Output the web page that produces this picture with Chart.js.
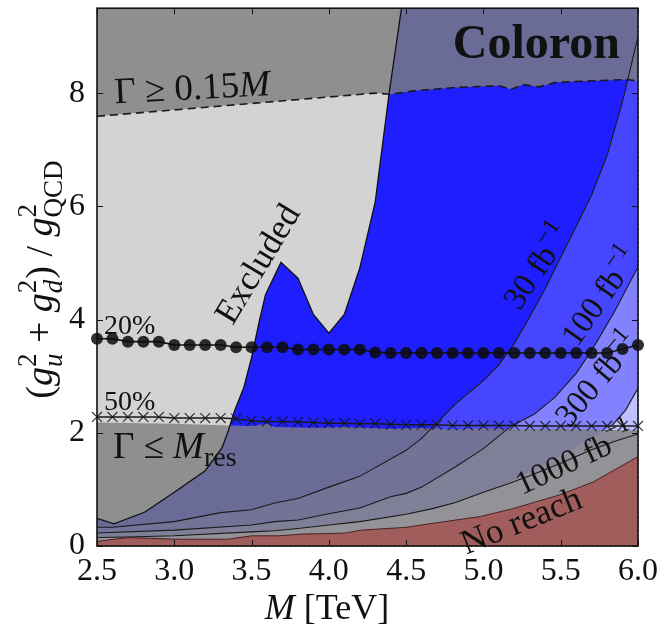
<!DOCTYPE html>
<html>
<head>
<meta charset="utf-8">
<script src="https://cdn.jsdelivr.net/npm/chart.js@4.4.1/dist/chart.umd.min.js"></script>
<style>
  body { margin: 0; background: #fff; }
  canvas { display: block; }
</style>
</head>
<body>
<canvas id="reach" width="663" height="635"></canvas>
<script>
// axes
var massTicks = [2.5, 3.0, 3.5, 4.0, 4.5, 5.0, 5.5, 6.0];
var couplingTicks = [0, 2, 4, 6, 8];
var massMin = 2.5, massMax = 6.0, couplingMax = 9.5;

// reach contours
var reach30M = [2.5, 2.6, 3.0, 3.3, 3.5, 3.65, 3.8, 4.0, 4.2, 4.5, 4.6, 4.7, 4.82, 5.0, 5.1, 5.2, 5.3, 5.4, 5.5, 5.6, 5.7, 5.8, 5.9, 6.0];
var reach30 = [0.33, 0.33, 0.43, 0.59, 0.64, 0.76, 0.84, 1.04, 1.23, 1.69, 1.90, 2.18, 2.51, 2.92, 3.20, 3.58, 4.05, 4.55, 5.10, 5.65, 6.20, 6.90, 7.85, 9.00];

var reach100M = [2.5, 3.0, 3.5, 3.65, 3.8, 4.0, 4.2, 4.4, 4.5, 4.6, 4.82, 5.0, 5.17, 5.33, 5.46, 5.6, 5.71, 5.85, 6.0];
var reach100 = [0.23, 0.28, 0.37, 0.43, 0.46, 0.57, 0.67, 0.87, 0.93, 1.04, 1.40, 1.72, 2.10, 2.33, 2.62, 3.05, 3.50, 4.15, 4.93];

var reach300M = [2.5, 2.7, 3.0, 3.5, 3.65, 3.8, 4.0, 4.2, 4.5, 4.67, 4.82, 5.0, 5.16, 5.3, 5.5, 5.7, 5.83, 5.92, 6.0];
var reach300 = [0.15, 0.16, 0.18, 0.25, 0.27, 0.31, 0.37, 0.43, 0.56, 0.66, 0.77, 0.95, 1.12, 1.32, 1.60, 1.90, 2.12, 2.40, 2.79];

var reach1000M = [2.5, 2.7, 3.0, 3.5, 3.65, 3.8, 4.0, 4.2, 4.5, 4.67, 4.82, 5.0, 5.16, 5.3, 5.5, 5.7, 5.85, 6.0];
var reach1000 = [0.15, 0.16, 0.18, 0.25, 0.27, 0.31, 0.37, 0.43, 0.56, 0.66, 0.77, 0.95, 1.10, 1.24, 1.46, 1.70, 1.85, 1.98];

var noReachM = [2.5, 2.7, 3.0, 3.35, 3.5, 3.68, 3.82, 4.0, 4.11, 4.21, 4.5, 4.67, 4.85, 4.98, 5.19, 5.49, 5.71, 6.0];
var noReach = [0.08, 0.15, 0.12, 0.12, 0.18, 0.18, 0.21, 0.22, 0.23, 0.28, 0.33, 0.40, 0.47, 0.52, 0.66, 0.90, 1.13, 1.58];

// excluded region outline (closed)
var excludedM = [2.5, 4.47, 4.39, 4.30, 4.20, 4.10, 4.00, 3.90, 3.80, 3.69, 3.59, 3.55, 3.50, 3.45, 3.39, 3.35, 3.31, 3.24, 3.20, 3.00, 2.81, 2.61, 2.5, 2.5];
var excluded = [9.5, 9.5, 8.0, 6.08, 4.91, 4.09, 3.76, 4.09, 4.73, 5.01, 4.44, 3.97, 3.33, 2.80, 2.39, 2.04, 1.74, 1.48, 1.33, 0.95, 0.60, 0.39, 0.49, 9.5];

// width limits
var wideM = [2.5, 4.3, 4.4, 4.55, 4.82, 5.1, 5.18, 5.26, 5.36, 5.47, 5.93, 6.0];
var wide = [7.59, 8.00, 7.98, 8.04, 8.10, 8.13, 8.07, 8.15, 8.11, 8.19, 8.24, 8.21];
var narrowM = [2.5, 3.0, 3.35, 3.5, 3.6, 3.65, 3.9, 4.1, 4.4, 4.6, 4.8, 5.0, 5.25, 5.5, 5.75, 6.0];
var narrow = [2.18, 2.16, 2.13, 2.12, 2.16, 2.10, 2.09, 2.10, 2.07, 2.09, 2.06, 2.08, 2.06, 2.07, 2.05, 2.05];

// signal-fraction lines
var fracM = [2.5, 2.6, 2.7, 2.8, 2.9, 3.0, 3.1, 3.2, 3.3, 3.4, 3.5, 3.6, 3.7, 3.8, 3.9, 4.0, 4.1, 4.2,
             4.3, 4.4, 4.5, 4.6, 4.7, 4.8, 4.9, 5.0, 5.1, 5.2, 5.3, 5.4, 5.5, 5.6, 5.7, 5.8, 5.9, 6.0];
var twentyPct = [3.66, 3.66, 3.61, 3.61, 3.61, 3.55, 3.55, 3.55, 3.55, 3.51, 3.51, 3.51, 3.51, 3.47, 3.47, 3.47, 3.47, 3.47,
                 3.42, 3.41, 3.41, 3.41, 3.41, 3.41, 3.41, 3.41, 3.41, 3.41, 3.41, 3.41, 3.41, 3.41, 3.41, 3.41, 3.48, 3.55];
var fiftyPct = [2.28, 2.28, 2.28, 2.28, 2.28, 2.26, 2.26, 2.26, 2.26, 2.25, 2.21, 2.20, 2.20, 2.19, 2.18, 2.17, 2.17, 2.16,
                2.16, 2.15, 2.14, 2.14, 2.14, 2.13, 2.13, 2.13, 2.13, 2.13, 2.12, 2.12, 2.12, 2.12, 2.12, 2.12, 2.12, 2.12];

var serif = "'Liberation Serif', 'Times New Roman', serif";
var overlay = 'rgba(126,126,126,0.8)';

function pts(xs, ys) {
    return xs.map(function (x, i) { return { x: x, y: ys[i] }; });
}
function fillSet(label, xs, ys, color, fill, order) {
    return { label: label, data: pts(xs, ys), backgroundColor: color, borderWidth: 0,
             pointRadius: 0, fill: fill, order: order };
}
function lineSet(label, xs, ys, color, width, order) {
    return { label: label, data: pts(xs, ys), borderColor: color, borderWidth: width,
             pointRadius: 0, fill: false, order: order };
}

// text labels, positions in (mass, coupling)
var sup = function (t, size) { return { t: t, size: size, dy: -size * 0.6 }; };
var annotations = [
    { x: 5.883, y: 8.62, align: 'right', pieces: [{ t: 'Coloron', size: 48, style: 'bold' }] },
    { x: 2.616, y: 7.82, angle: -3, pieces: [{ t: 'Γ ≥ 0.15', size: 37 }, { t: 'M', size: 37, style: 'italic' }] },
    { x: 3.535, y: 4.99, angle: -59, align: 'center', mid: true, pieces: [{ t: 'Excluded', size: 35 }] },
    { x: 2.545, y: 3.74, pieces: [{ t: '20%', size: 28 }] },
    { x: 2.545, y: 2.41, pieces: [{ t: '50%', size: 28 }] },
    { x: 2.603, y: 1.546, pieces: [{ t: 'Γ ≤ ', size: 37 }, { t: 'M', size: 37, style: 'italic' }, { t: 'res', size: 28, dy: 8 }] },
    { x: 5.346, y: 4.94, angle: -56, align: 'center', mid: true, pieces: [{ t: '30 fb', size: 33 }, sup('−1', 24)] },
    { x: 5.754, y: 4.41, angle: -55, align: 'center', mid: true, pieces: [{ t: '100 fb', size: 33 }, sup('−1', 24)] },
    { x: 5.734, y: 2.95, angle: -50, align: 'center', mid: true, pieces: [{ t: '300 fb', size: 33 }, sup('−1', 24)] },
    { x: 5.592, y: 1.546, angle: -25, align: 'center', mid: true, pieces: [{ t: '1000 fb', size: 33 }, sup('−1', 24)] },
    { x: 5.243, y: 0.457, angle: -22, align: 'center', mid: true, pieces: [{ t: 'No reach', size: 35 }] }
];
var xTitle = [{ t: 'M', size: 36, style: 'italic' }, { t: ' [TeV]', size: 36 }];
var yTitle = [
    { t: '(', size: 38 }, { t: 'g', size: 38, style: 'italic' }, { sup: '2', sub: 'u', size: 27, subStyle: 'italic' },
    { t: ' + ', size: 38 }, { t: 'g', size: 38, style: 'italic' }, { sup: '2', sub: 'd', size: 27, subStyle: 'italic' },
    { t: ')', size: 38 }, { t: ' / ', size: 38 }, { t: 'g', size: 38, style: 'italic' },
    { sup: '2', sub: 'QCD', size: 27 }
];

function setFont(ctx, size, style) {
    ctx.font = (style || 'normal') + ' ' + size + 'px ' + serif;
}
function pieceWidth(ctx, p) {
    if (p.sup !== undefined) {
        setFont(ctx, p.size, p.supStyle);
        var a = ctx.measureText(p.sup).width;
        setFont(ctx, p.size, p.subStyle);
        var b = ctx.measureText(p.sub).width;
        return Math.max(a, b) + 1;
    }
    setFont(ctx, p.size, p.style);
    return ctx.measureText(p.t).width;
}
function drawRich(ctx, pieces, x, y, angle, align, mid) {
    ctx.save();
    ctx.translate(x, y);
    ctx.rotate((angle || 0) * Math.PI / 180);
    ctx.fillStyle = '#111';
    ctx.textAlign = 'left';
    ctx.textBaseline = 'alphabetic';
    var widths = pieces.map(function (p) { return pieceWidth(ctx, p); });
    var total = widths.reduce(function (s, w) { return s + w; }, 0);
    var cx = align === 'center' ? -total / 2 : (align === 'right' ? -total : 0);
    var base = mid ? pieces[0].size * 0.33 : 0;
    pieces.forEach(function (p, i) {
        if (p.sup !== undefined) {
            setFont(ctx, p.size, p.supStyle);
            ctx.fillText(p.sup, cx, base - p.size * 0.6);
            setFont(ctx, p.size, p.subStyle);
            ctx.fillText(p.sub, cx, base + p.size * 0.38);
        } else {
            setFont(ctx, p.size, p.style);
            ctx.fillText(p.t, cx, base + (p.dy || 0));
        }
        cx += widths[i];
    });
    ctx.restore();
}

var decor = {
    id: 'decor',
    afterDraw: function (chart) {
        var ctx = chart.ctx, a = chart.chartArea, xs = chart.scales.x, ys = chart.scales.y;
        ctx.save();
        ctx.strokeStyle = '#111';
        ctx.lineWidth = 1;
        ctx.beginPath();
        massTicks.forEach(function (v) {
            var p = Math.round(xs.getPixelForValue(v)) + 0.5;
            ctx.moveTo(p, a.bottom); ctx.lineTo(p, a.bottom - 6);
            ctx.moveTo(p, a.top); ctx.lineTo(p, a.top + 6);
        });
        couplingTicks.forEach(function (v) {
            var p = Math.round(ys.getPixelForValue(v)) + 0.5;
            ctx.moveTo(a.left, p); ctx.lineTo(a.left + 6, p);
            ctx.moveTo(a.right, p); ctx.lineTo(a.right - 6, p);
        });
        ctx.stroke();
        ctx.lineWidth = 1.6;
        ctx.strokeRect(a.left, a.top, a.right - a.left, a.bottom - a.top);
        ctx.restore();

        annotations.forEach(function (n) {
            drawRich(ctx, n.pieces, xs.getPixelForValue(n.x), ys.getPixelForValue(n.y), n.angle, n.align, n.mid);
        });
        drawRich(ctx, xTitle, a.left + 230, a.bottom + 73, 0, 'center');
        drawRich(ctx, yTitle, a.left - 45, (a.top + a.bottom) / 2 + 2, -90, 'center');
    }
};

var c300 = lineSet('300 fb-1', reach300M, reach300, '#1a1a1a', 1.1, 8);
c300.segment = { borderColor: function (s) { return s.p0.parsed.y < 2.06 ? 'transparent' : undefined; } };

var outline = lineSet('Excluded edge', excludedM.slice(1, 23), excluded.slice(1, 23), '#111', 1.3, 5);

var datasets = [
    fillSet('30 fb-1', [massMin, massMax], [couplingMax, couplingMax], '#1e1eff', 'start', 30),
    fillSet('100 fb-1', reach30M, reach30, '#4646ff', 'start', 29),
    fillSet('300 fb-1', reach100M, reach100, '#8282ff', 'start', 28),
    fillSet('1000 fb-1', reach300M, reach300, '#c0c0ff', 'start', 27),
    fillSet('> 1000 fb-1', reach1000M, reach1000, '#e4e4f8', 'start', 26),
    fillSet('Excluded', excludedM, excluded, '#d3d3d3', 'shape', 25),
    fillSet('Γ ≤ Mres', narrowM, narrow, overlay, 'start', 24),
    fillSet('No reach', noReachM, noReach, '#a15c5c', 'start', 23),
    { label: 'Γ ≥ 0.15M', data: pts(wideM, wide), backgroundColor: overlay, fill: 'end',
      borderColor: '#1a1a1a', borderDash: [8, 5], borderWidth: 1.6, pointRadius: 0, order: 22 },
    lineSet('30 fb-1 line', reach30M, reach30, '#1a1a1a', 1.1, 10),
    lineSet('100 fb-1 line', reach100M, reach100, '#1a1a1a', 1.1, 9),
    c300,
    lineSet('1000 fb-1 line', reach1000M, reach1000, '#1a1a1a', 1.1, 7),
    lineSet('No reach line', noReachM, noReach, '#4a2222', 1, 6),
    outline,
    { label: '50%', data: pts(fracM, fiftyPct), borderColor: '#1a1a1a', borderWidth: 1.5, fill: false,
      pointStyle: 'crossRot', pointRadius: 7, pointBorderColor: 'rgba(20,20,20,0.85)', pointBorderWidth: 1.2,
      clip: false, order: 2 },
    { label: '20%', data: pts(fracM, twentyPct), borderColor: '#111', borderWidth: 1.6, fill: false,
      pointStyle: 'circle', pointRadius: 6, pointBackgroundColor: 'rgba(12,12,12,0.85)', pointBorderWidth: 0,
      clip: false, order: 1 }
];

var ctx = document.getElementById('reach').getContext('2d');
var reachChart = new Chart(ctx, {
    type: 'line',
    data: { datasets: datasets },
    options: {
        responsive: false,
        devicePixelRatio: 1,
        animation: false,
        layout: { padding: { left: 0, top: 5, right: 25, bottom: 0 } },
        elements: { line: { tension: 0 } },
        plugins: { legend: { display: false }, tooltip: { enabled: false } },
        scales: {
            x: {
                type: 'linear', min: massMin, max: massMax, z: 1,
                afterBuildTicks: function (s) { s.ticks = massTicks.map(function (v) { return { value: v }; }); },
                afterFit: function (s) { s.height = 89; s.paddingLeft = 0; s.paddingRight = 0; },
                grid: { color: 'rgba(40,40,40,0.75)', lineWidth: 1, drawTicks: false },
                border: { display: false, dash: [1.5, 3] },
                ticks: { padding: 6, color: '#111', font: { family: serif, size: 32 },
                         maxRotation: 0, autoSkip: false,
                         callback: function (v) { return Number(v).toFixed(1); } }
            },
            y: {
                type: 'linear', min: 0, max: couplingMax, z: 1,
                afterBuildTicks: function (s) { s.ticks = couplingTicks.map(function (v) { return { value: v }; }); },
                afterFit: function (s) { s.width = 97; s.paddingTop = 0; s.paddingBottom = 0; },
                grid: { color: 'rgba(40,40,40,0.75)', lineWidth: 1, drawTicks: false },
                border: { display: false, dash: [1.5, 3] },
                ticks: { padding: 12, color: '#111', font: { family: serif, size: 32 },
                         callback: function (v) { return String(v); } }
            }
        }
    },
    plugins: [decor]
});
</script>
</body>
</html>
